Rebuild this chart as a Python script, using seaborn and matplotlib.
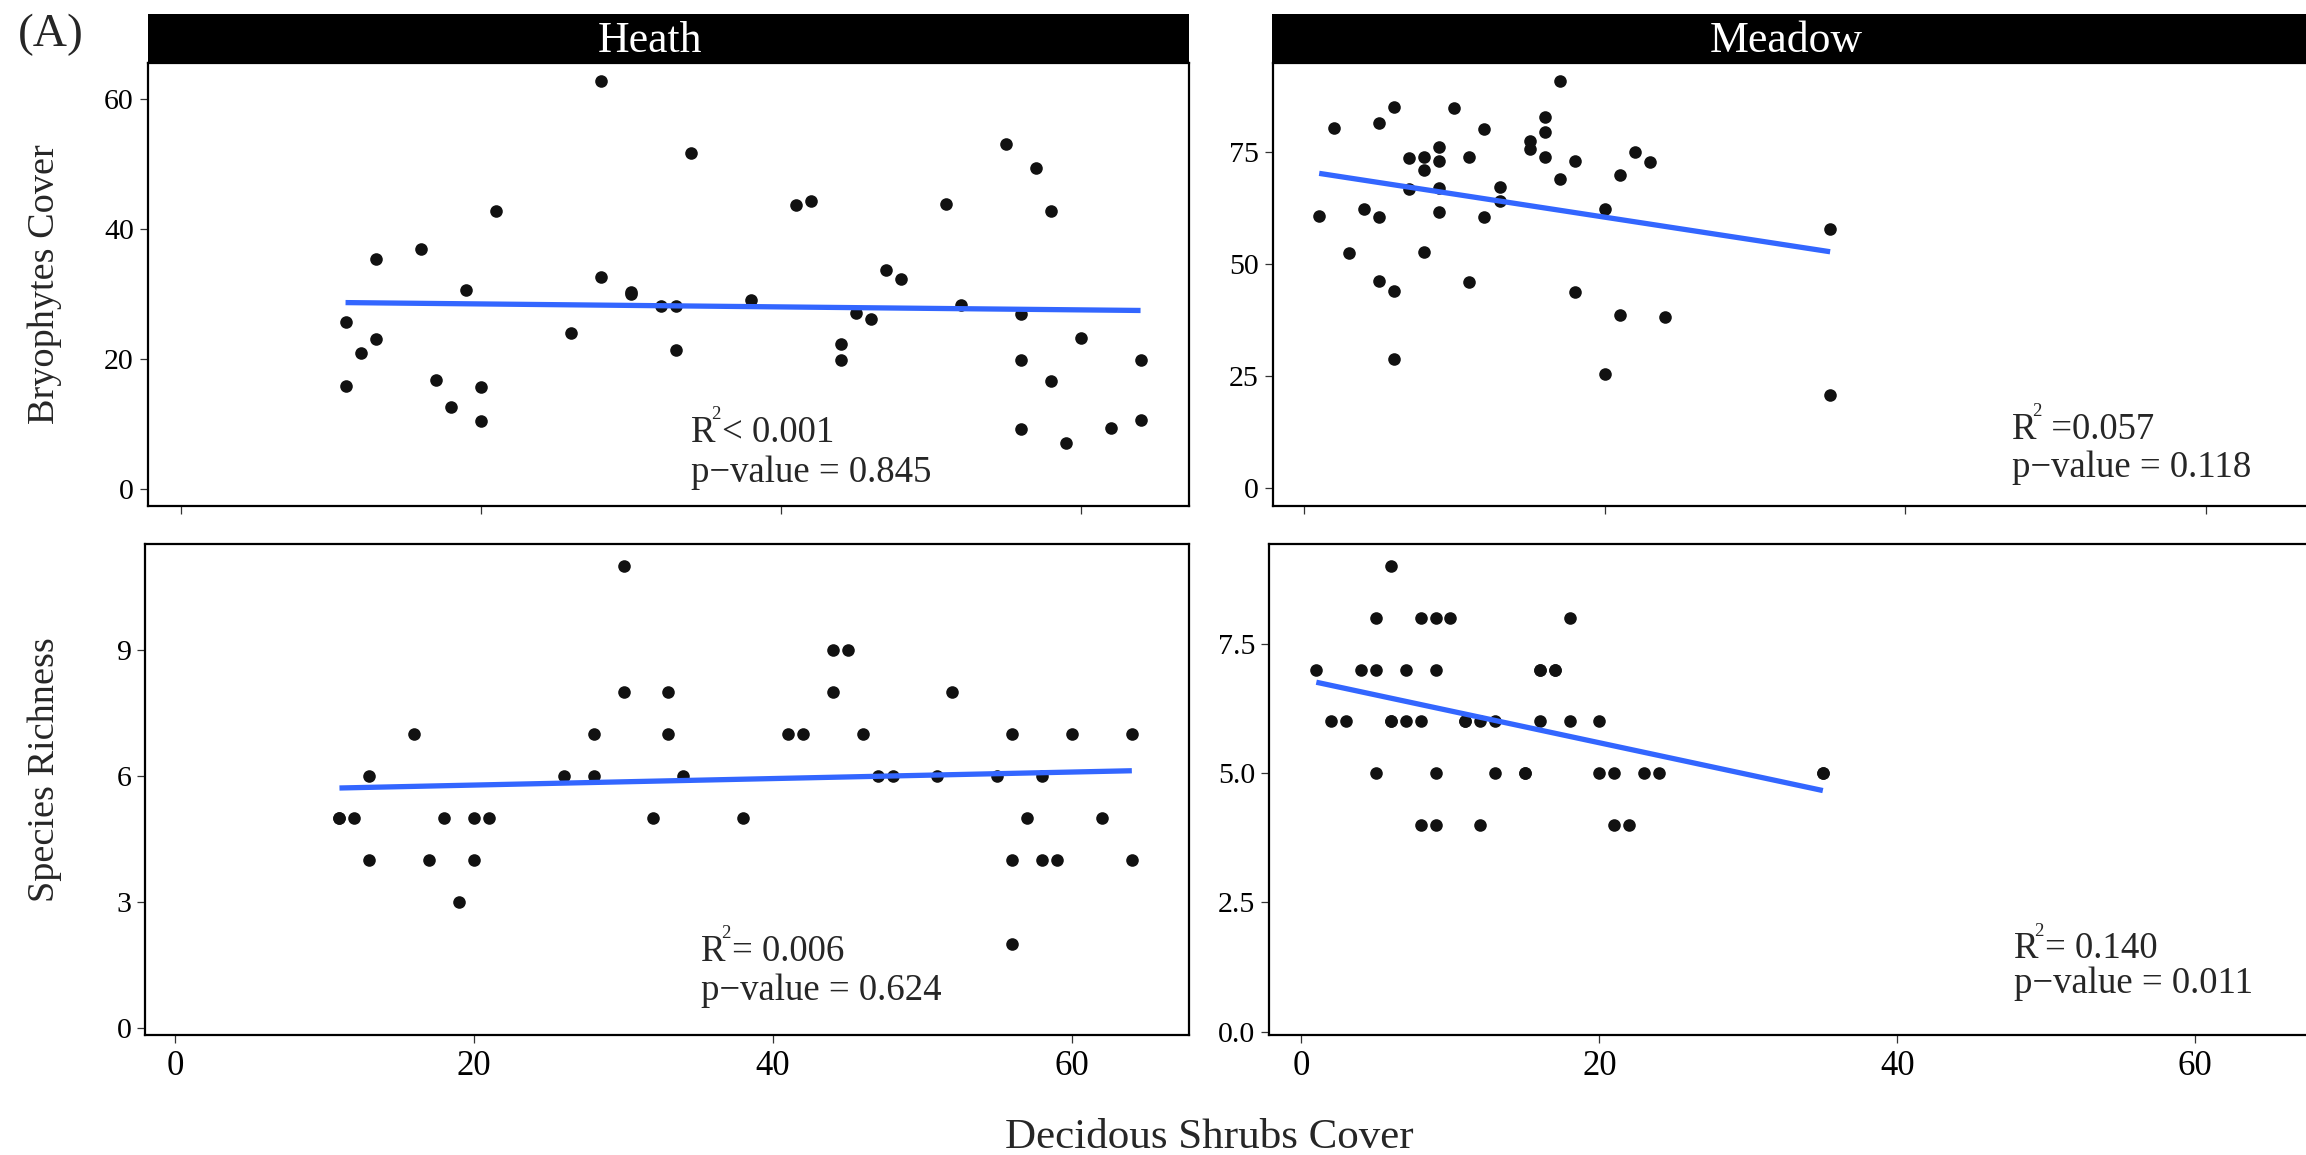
import numpy as np
import pandas as pd
import matplotlib
matplotlib.use("Agg")
import matplotlib.pyplot as plt
from matplotlib.patches import Rectangle
import seaborn as sns

# ---------------- data ----------------
heath_shrubs = [11, 11, 12, 13, 13, 16, 17, 18, 19, 20, 20, 21, 26, 28, 28, 30, 30,
                32, 33, 33, 34, 38, 41, 42, 44, 44, 45, 46, 47, 48, 51, 52, 55, 56,
                56, 56, 57, 58, 58, 59, 60, 62, 64, 64]
heath_bryo = [25.6, 15.8, 20.9, 35.4, 23.0, 36.9, 16.7, 12.6, 30.6, 15.6, 10.4, 42.8,
              24.0, 62.7, 32.6, 30.2, 29.9, 28.05, 28.05, 21.3, 51.7, 29.1, 43.7, 44.3,
              22.2, 19.8, 27.1, 26.1, 33.7, 32.3, 43.8, 28.3, 53.0, 26.9, 19.8, 9.2,
              49.4, 42.8, 16.5, 7.0, 23.2, 9.4, 19.8, 10.6]
heath_rich = [5, 5, 5, 6, 4, 7, 4, 5, 3, 5, 4, 5, 6, 7, 6, 11, 8, 5, 8, 7, 6, 5, 7, 7,
              9, 8, 9, 7, 6, 6, 6, 8, 6, 7, 4, 2, 5, 6, 4, 4, 7, 5, 7, 4]

meadow_shrubs = [1, 2, 3, 4, 5, 5, 5, 6, 6, 6, 7, 7, 8, 8, 8, 9, 9, 9, 9, 10, 11, 11,
                 12, 12, 13, 13, 15, 15, 16, 16, 16, 17, 17, 18, 18, 20, 20, 21, 21, 22,
                 23, 24, 35, 35]
meadow_bryo = [60.8, 80.4, 52.4, 62.2, 81.5, 60.5, 46.3, 85.1, 44.0, 28.8, 73.6, 66.8,
               74.0, 71.0, 52.6, 76.1, 73.1, 66.9, 61.6, 84.9, 74.0, 45.9, 80.1, 60.5,
               67.2, 64.0, 77.4, 75.8, 82.9, 79.6, 74.0, 91.0, 68.9, 73.1, 43.7, 62.4,
               25.4, 69.9, 38.7, 75.1, 72.8, 38.2, 57.9, 20.7]
meadow_rich = [7, 6, 6, 7, 8, 7, 5, 9, 6, 6, 7, 6, 8, 6, 4, 8, 7, 5, 4, 8, 6, 6, 6, 4,
               6, 5, 5, 5, 7, 7, 6, 7, 7, 8, 6, 6, 5, 5, 4, 4, 5, 5, 5, 5]

habitats = ["Heath", "Meadow"]
response_titles = ["Bryophytes Cover", "Species Richness"]
x_title = "Decidous Shrubs Cover"
panel_tag = "(A)"

x_ticks = [0, 20, 40, 60]
y_ticks = {("Heath", "bryo"): [0, 20, 40, 60],
           ("Meadow", "bryo"): [0, 25, 50, 75],
           ("Heath", "rich"): [0, 3, 6, 9],
           ("Meadow", "rich"): [0, 2.5, 5.0, 7.5]}
y_ticklabels = {("Heath", "bryo"): ["0", "20", "40", "60"],
                ("Meadow", "bryo"): ["0", "25", "50", "75"],
                ("Heath", "rich"): ["0", "3", "6", "9"],
                ("Meadow", "rich"): ["0.0", "2.5", "5.0", "7.5"]}
# fit statistics: text after "R²" and the p-value line
r2_text = {("Heath", "bryo"): "< 0.001",
           ("Meadow", "bryo"): " =0.057",
           ("Heath", "rich"): "= 0.006",
           ("Meadow", "rich"): "= 0.140"}
p_text = {("Heath", "bryo"): "p\u2212value = 0.845",
          ("Meadow", "bryo"): "p\u2212value = 0.118",
          ("Heath", "rich"): "p\u2212value = 0.624",
          ("Meadow", "rich"): "p\u2212value = 0.011"}

heath = pd.DataFrame({"shrubs": heath_shrubs, "bryo": heath_bryo, "rich": heath_rich})
meadow = pd.DataFrame({"shrubs": meadow_shrubs, "bryo": meadow_bryo, "rich": meadow_rich})
frames = {"Heath": heath, "Meadow": meadow}

# ---------------- style ----------------
sns.set_theme(style="white")
plt.rcParams["font.family"] = ["Liberation Serif", "DejaVu Serif"]

W, H = 2306, 1155
fig = plt.figure(figsize=(W / 100, H / 100), dpi=100)
fig.patch.set_facecolor("white")
renderer = fig.canvas.get_renderer()


def fx(px):
    return px / W


def fy(py):
    return 1 - py / H


def add_box(l, t, r, b):
    return fig.add_axes([fx(l), fy(b), (r - l) / W, (b - t) / H])


def right_px(txt):
    return txt.get_window_extent(renderer=renderer).x1


# panel boxes in pixels (left, top, right, bottom) and axis limits
layout = {
    ("Heath", "bryo"): dict(box=(147.7, 62.7, 1189, 506), xlim=(-2.19, 67.23), ylim=(-2.66, 65.54)),
    ("Meadow", "bryo"): dict(box=(1272.6, 62.7, 2314, 506), xlim=(-2.10, 67.2), ylim=(-4.03, 94.98)),
    ("Heath", "rich"): dict(box=(145.4, 544, 1189.4, 1034.8), xlim=(-1.98, 67.85), ylim=(-0.15, 11.53)),
    ("Meadow", "rich"): dict(box=(1269.1, 544, 2310, 1035.2), xlim=(-2.17, 67.7), ylim=(-0.07, 9.43)),
}
stats_pos = {
    ("Heath", "bryo"): (691, 441.7, 481.7),
    ("Meadow", "bryo"): (2011.6, 439.3, 477.0),
    ("Heath", "rich"): (701, 961.0, 1000.0),
    ("Meadow", "rich"): (2014, 958.5, 993.0),
}
stat_size = 26.5

for (hab, resp), spec in layout.items():
    ax = add_box(*spec["box"])
    df = frames[hab]
    sns.regplot(data=df, x="shrubs", y=resp, ax=ax, ci=None,
                scatter_kws=dict(s=82, color="#111111", linewidths=0, alpha=1),
                line_kws=dict(color="#3366FF", lw=3.8, solid_capstyle="butt"))
    ax.set_xlim(*spec["xlim"])
    ax.set_ylim(*spec["ylim"])
    ax.set_xlabel("")
    ax.set_ylabel("")
    ax.set_facecolor("white")
    for sp in ax.spines.values():
        sp.set_visible(True)
        sp.set_color("black")
        sp.set_linewidth(1.6)
    ax.set_xticks(x_ticks)
    ax.set_yticks(y_ticks[(hab, resp)])
    ax.set_yticklabels(y_ticklabels[(hab, resp)])
    ax.tick_params(axis="both", direction="out", length=5.5, width=0.9,
                   color="#333333", bottom=True, left=True)
    ax.tick_params(axis="y", labelsize=21.5, pad=4.5, labelcolor="black")
    if resp == "rich":
        ax.tick_params(axis="x", labelsize=25, pad=5.5, labelcolor="black")
    else:
        ax.tick_params(axis="x", labelbottom=False)
    ax.grid(False)

    # "R²" built from a letter and a small raised digit, then the value
    sx, b1, b2 = stats_pos[(hab, resp)]
    t_r = fig.text(fx(sx), fy(b1), "R", fontsize=stat_size, ha="left", va="baseline")
    x_sup = right_px(t_r) - 4
    t_sup = fig.text(fx(x_sup), fy(b1 - 23), "2", fontsize=13.5, ha="left", va="baseline")
    x_rest = right_px(t_sup) + 1
    fig.text(fx(x_rest), fy(b1), r2_text[(hab, resp)], fontsize=stat_size,
             ha="left", va="baseline")
    fig.text(fx(sx), fy(b2), p_text[(hab, resp)], fontsize=stat_size,
             ha="left", va="baseline")

# facet strips
strips = [("Heath", 147.7, 1189, 649.8), ("Meadow", 1272.4, 2330, 1786.6)]
for name, l, r, cx in strips:
    fig.add_artist(Rectangle((fx(l), fy(62.7)), (r - l) / W, (62.7 - 14) / H,
                             transform=fig.transFigure, facecolor="black",
                             edgecolor="none", zorder=5))
    fig.text(fx(cx), fy(51.7), name, color="white", fontsize=31.5,
             ha="center", va="baseline", zorder=6)

# axis titles and tag
fig.text(fx(45), fy(283.7), response_titles[0], rotation=90, fontsize=27.5,
         ha="center", va="center")
fig.text(fx(45), fy(769.5), response_titles[1], rotation=90, fontsize=27.5,
         ha="center", va="center")
fig.text(fx(1209.7), fy(1148), x_title, fontsize=31, ha="center", va="baseline")
fig.text(fx(51), fy(35), panel_tag, fontsize=34, ha="center", va="center")

fig.savefig("out.png", dpi=100, facecolor="white")
